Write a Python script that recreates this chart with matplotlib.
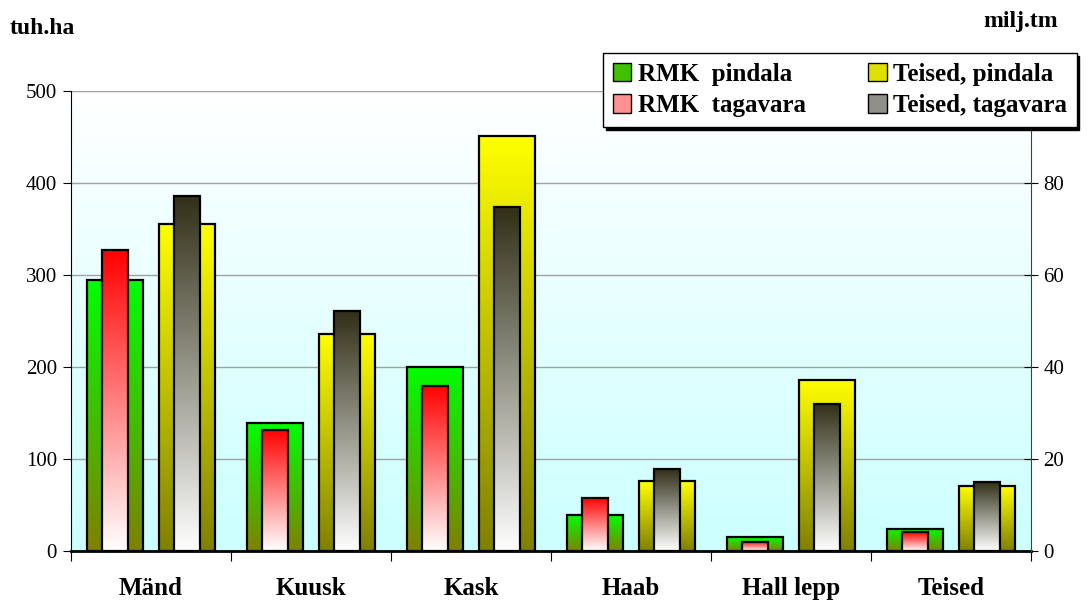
import matplotlib.pyplot as plt
import numpy as np
from matplotlib.colors import LinearSegmentedColormap
from matplotlib.patches import Patch

# Andmed (loetud pildilt)
categories = ["Mänd", "Kuusk", "Kask", "Haab", "Hall lepp", "Teised"]
rmk_pindala = [295, 139, 200, 39, 15, 24]          # tuh.ha
teised_pindala = [355, 236, 451, 76, 186, 71]      # tuh.ha
rmk_tagavara = [65.4, 26.4, 35.9, 11.6, 2.0, 4.1]  # milj.tm
teised_tagavara = [77.2, 52.1, 74.7, 17.8, 32.0, 14.9]

left_ticks = [0, 100, 200, 300, 400, 500]
right_ticks = [0, 20, 40, 60, 80, 100]
right_labels = ["0", "20", "40", "60", "80", ""]  # 100 jääb legendi alla

plt.rcParams['font.family'] = ['Liberation Serif', 'DejaVu Serif']

# gradientid: alumine värv -> ülemine värv
cm_green = LinearSegmentedColormap.from_list("g", ["#808000", "#00ff00"])
cm_yellow = LinearSegmentedColormap.from_list("y", ["#808000", "#ffff00"])
cm_red = LinearSegmentedColormap.from_list("r", ["#ffffff", "#ff0000"])
cm_gray = LinearSegmentedColormap.from_list("k", ["#ffffff", "#303018"])


def gradient_bars(ax, bars, cmap):
    """Täidab tulbad vertikaalse gradiendiga."""
    grad = np.linspace(1, 0, 256).reshape(-1, 1)
    for b in bars:
        x, y = b.get_x(), b.get_y()
        w, h = b.get_width(), b.get_height()
        ax.imshow(grad, extent=[x, x + w, y, y + h], aspect="auto", cmap=cmap,
                  vmin=0, vmax=1, origin="upper", zorder=2.5, interpolation="bilinear")
        b.set_facecolor("none")


fig = plt.figure(figsize=(10.89, 6.03), dpi=100)
ax1 = fig.add_axes([71 / 1089, 1 - 551 / 603, 960 / 1089, 460 / 603])
ax2 = ax1.twinx()

x = np.arange(len(categories))
off = 0.225
wide = 0.35
narrow = 0.16

# taust
bg = np.linspace(1, 0, 256).reshape(-1, 1)
cm_bg = LinearSegmentedColormap.from_list("bg", ["#ccffff", "#ffffff"])
ax1.imshow(bg, extent=[0, 1, 0, 1], transform=ax1.transAxes, aspect="auto",
           cmap=cm_bg, vmin=0, vmax=1, origin="upper", zorder=0)
ax1.patch.set_visible(False)

b1 = ax1.bar(x - off, rmk_pindala, wide, edgecolor="black", linewidth=1.6, zorder=3)
b2 = ax1.bar(x + off, teised_pindala, wide, edgecolor="black", linewidth=1.6, zorder=3)
gradient_bars(ax1, b1, cm_green)
gradient_bars(ax1, b2, cm_yellow)

b3 = ax2.bar(x - off, rmk_tagavara, narrow, edgecolor="black", linewidth=1.6, zorder=3)
b4 = ax2.bar(x + off, teised_tagavara, narrow, edgecolor="black", linewidth=1.6, zorder=3)
gradient_bars(ax2, b3, cm_red)
gradient_bars(ax2, b4, cm_gray)

ax1.set_xlim(-0.5, len(categories) - 0.5)
ax1.set_ylim(0, 500)
ax2.set_ylim(0, 100)

ax1.set_yticks(left_ticks)
ax1.yaxis.grid(True, color="#a0a0a0", linewidth=1)
ax1.set_axisbelow(True)
for gl in ax1.get_ygridlines():
    gl.set_zorder(1)
ax1.tick_params(axis="y", direction="out", length=6, labelsize=15, pad=4)

ax1.set_xticks(np.arange(len(categories) + 1) - 0.5, labels=[])
ax1.set_xticks(x, labels=categories, minor=True)
ax1.tick_params(axis="x", which="major", direction="out", length=7)
ax1.tick_params(axis="x", which="minor", length=0, pad=19, labelsize=18)
for lab in ax1.get_xticklabels(minor=True):
    lab.set_fontweight("bold")

ax2.set_yticks(right_ticks, labels=right_labels)
ax2.tick_params(axis="y", direction="inout", length=10, labelsize=15, pad=4)

for s in ["top", "right"]:
    ax1.spines[s].set_visible(False)
ax1.spines["bottom"].set_linewidth(2)
for s in ["top", "left", "bottom"]:
    ax2.spines[s].set_visible(False)
ax2.spines["right"].set_color("#404040")

handles = [
    Patch(facecolor="#40c000", edgecolor="black", label="RMK  pindala"),
    Patch(facecolor="#ff9090", edgecolor="black", label="RMK  tagavara"),
    Patch(facecolor="#e0e000", edgecolor="black", label="Teised, pindala"),
    Patch(facecolor="#909088", edgecolor="black", label="Teised, tagavara"),
]
leg = fig.legend(handles=handles, ncol=2, loc="upper left",
                 bbox_to_anchor=(603 / 1089, 1 - 53 / 603),
                 borderaxespad=0, frameon=True, fancybox=False, edgecolor="black",
                 shadow={"color": "black", "alpha": 1}, framealpha=1,
                 prop={"weight": "bold", "size": 18}, handlelength=0.75, handleheight=0.75,
                 handletextpad=0.25, columnspacing=2.5, labelspacing=0.35, borderpad=0.38)
leg.set_zorder(10)

fig.text(10 / 1089, 1 - 34 / 603, "tuh.ha", fontsize=17, fontweight="bold")
fig.text(1058 / 1089, 1 - 27 / 603, "milj.tm", fontsize=17, fontweight="bold", ha="right")

fig.savefig("out.png", dpi=100)
